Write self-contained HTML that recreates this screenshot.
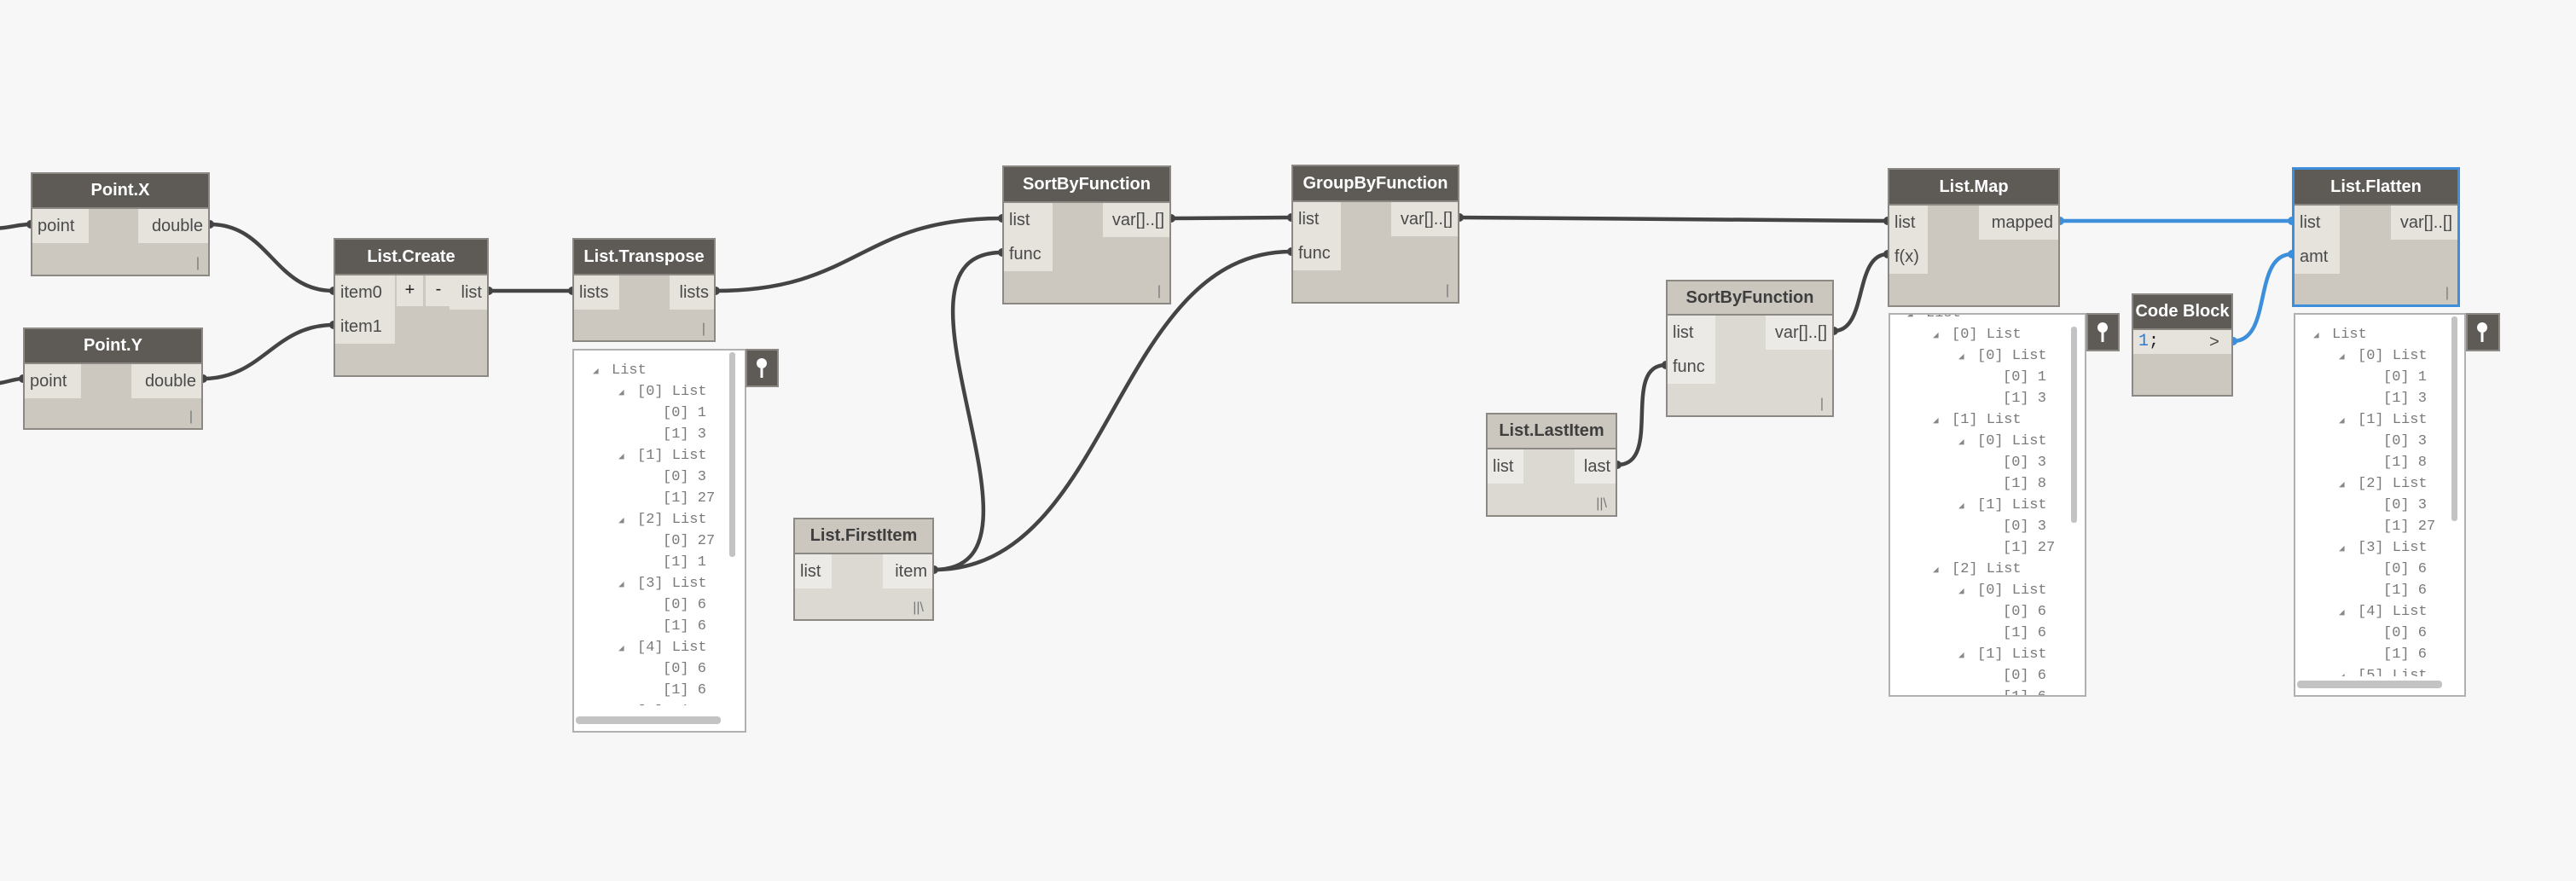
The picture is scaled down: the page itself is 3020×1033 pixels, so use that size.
<!DOCTYPE html>
<html><head><meta charset="utf-8"><style>
body{margin:0;width:3020px;height:1033px;background:#f7f7f7;position:relative;overflow:hidden;font-family:"Liberation Sans",sans-serif}
.n{position:absolute;background:#ccc8c0;border:2px solid #8c8984;box-sizing:border-box}
.n.i{background:#dcd9d2}
.h{position:absolute;left:0;right:0;top:0;background:#5e5b57;color:#fff;font-weight:bold;text-align:center;font-size:20px;border-bottom:2px solid #8c8984}
.i .h{background:#cbc7bf;color:#3e3e3e}
.p{position:absolute;background:#e6e3dd;color:#4a4a4a;font-size:20px;padding:0 6px;box-sizing:border-box;line-height:40px}
.i .p{background:#eceae6}
.p.r{right:0;text-align:right}
.lc{position:absolute;right:10px;bottom:4px;font-size:16px;color:#777}
.w{position:absolute;background:#fff;border:2px solid #b0b0b0;box-sizing:border-box;overflow:hidden}
.c{position:absolute;left:0;right:0;font-family:"Liberation Mono",monospace;font-size:17px;color:#7a7a7a}
.c div{height:25px;line-height:25px;white-space:nowrap}
.c span{display:inline-block;width:22px;margin-left:-22px;font-size:11px;color:#888}
.pin{position:absolute;background:#5e5b57;border:2px solid #8c8984;box-sizing:border-box}
.vs{position:absolute;width:7px;background:#c3c3c3;border-radius:3px}
.hs{position:absolute;height:9px;background:#c3c3c3;border-radius:4px}
</style></head><body>
<svg width="3020" height="1033" style="position:absolute;left:0;top:0" fill="none">
<g stroke="#444" stroke-width="4.5">
<path d="M-10 268 C10 268 20 263 36 263"/>
<path d="M-10 450 C5 450 15 444 27 444"/>
<path d="M246 263 C316 263 321 341 391 341"/>
<path d="M238 444 C308 444 321 381 391 381"/>
<path d="M573 341 L671 341"/>
<path d="M839 341 C1007 341 1007 256 1175 256"/>
<path d="M1095 668 C1255 668 1015 296 1175 296"/>
<path d="M1095 668 C1304 668 1305 295 1514 295"/>
<path d="M1373 256 L1514 255"/>
<path d="M1711 255 L2213 259"/>
<path d="M1896 545 C1950 545 1900 428 1953 428"/>
<path d="M2150 388 C2190 388 2173 298 2213 298"/>
</g>
<g stroke="#3d8fdc" stroke-width="4.5">
<path d="M2415 259 L2687 259"/>
<path d="M2618 400 C2665 400 2640 298 2687 298"/>
</g>
<g fill="#444">
<circle cx="36" cy="263" r="5"/><circle cx="27" cy="444" r="5"/><circle cx="246" cy="263" r="5"/><circle cx="238" cy="444" r="5"/>
<circle cx="391" cy="341" r="5"/><circle cx="391" cy="381" r="5"/><circle cx="573" cy="341" r="5"/><circle cx="671" cy="341" r="5"/><circle cx="839" cy="341" r="5"/>
<circle cx="1175" cy="256" r="5"/><circle cx="1175" cy="296" r="5"/><circle cx="1373" cy="256" r="5"/><circle cx="1514" cy="255" r="5"/><circle cx="1514" cy="295" r="5"/><circle cx="1711" cy="255" r="5"/>
<circle cx="1095" cy="668" r="5"/><circle cx="1896" cy="545" r="5"/><circle cx="1953" cy="428" r="5"/><circle cx="2150" cy="388" r="5"/>
<circle cx="2213" cy="259" r="5"/><circle cx="2213" cy="298" r="5"/>
</g>
<g fill="#3d8fdc"><circle cx="2415" cy="259" r="5"/><circle cx="2687" cy="259" r="5"/><circle cx="2687" cy="298" r="5"/><circle cx="2618" cy="400" r="5"/></g>
</svg>

<div class="n" style="left:36px;top:202px;width:210px;height:122px"><div class="h" style="height:39px;line-height:39px">Point.X</div>
<div class="p" style="left:0;top:41px;width:66px">point</div><div class="p r" style="top:41px;width:82px">double</div><div class="lc">|</div></div>

<div class="n" style="left:27px;top:384px;width:211px;height:120px"><div class="h" style="height:39px;line-height:39px">Point.Y</div>
<div class="p" style="left:0;top:41px;width:66px">point</div><div class="p r" style="top:41px;width:82px">double</div><div class="lc">|</div></div>

<div class="n" style="left:391px;top:279px;width:182px;height:163px"><div class="h" style="height:40px;line-height:40px">List.Create</div>
<div class="p" style="left:0;top:42px;width:70px">item0</div>
<div class="p" style="left:72px;top:42px;width:31px;height:36px;line-height:34px;text-align:center;padding:0;color:#222">+</div>
<div class="p" style="left:106px;top:42px;width:30px;height:36px;line-height:32px;text-align:center;padding:0;color:#222">-</div>
<div class="p r" style="top:42px;width:44px">list</div>
<div class="p" style="left:0;top:82px;width:70px">item1</div></div>

<div class="n" style="left:671px;top:279px;width:168px;height:122px"><div class="h" style="height:40px;line-height:40px">List.Transpose</div>
<div class="p" style="left:0;top:42px;width:53px">lists</div><div class="p r" style="top:42px;width:52px">lists</div><div class="lc">|</div></div>

<div class="w" style="left:671px;top:409px;width:204px;height:450px">
<div class="c" style="top:11px;padding-left:44px;height:405px;overflow:hidden">
<div><span>◢</span>List</div>
<div style="padding-left:30px"><span>◢</span>[0] List</div>
<div style="padding-left:60px">[0] 1</div><div style="padding-left:60px">[1] 3</div>
<div style="padding-left:30px"><span>◢</span>[1] List</div>
<div style="padding-left:60px">[0] 3</div><div style="padding-left:60px">[1] 27</div>
<div style="padding-left:30px"><span>◢</span>[2] List</div>
<div style="padding-left:60px">[0] 27</div><div style="padding-left:60px">[1] 1</div>
<div style="padding-left:30px"><span>◢</span>[3] List</div>
<div style="padding-left:60px">[0] 6</div><div style="padding-left:60px">[1] 6</div>
<div style="padding-left:30px"><span>◢</span>[4] List</div>
<div style="padding-left:60px">[0] 6</div><div style="padding-left:60px">[1] 6</div>
<div style="padding-left:30px"><span>◢</span>[5] List</div>
</div>
<div class="vs" style="left:182px;top:2px;height:240px"></div>
<div class="hs" style="left:2px;top:429px;width:170px"></div>
</div>
<div class="pin" style="left:874px;top:409px;width:39px;height:45px"><svg width="35" height="41"><circle cx="17" cy="15" r="6" fill="#fff"/><rect x="15.5" y="18" width="3" height="14" fill="#fff"/></svg></div>

<div class="n" style="left:1175px;top:194px;width:198px;height:163px"><div class="h" style="height:40px;line-height:40px">SortByFunction</div>
<div class="p" style="left:0;top:42px;width:57px">list</div><div class="p" style="left:0;top:82px;width:57px">func</div>
<div class="p r" style="top:42px;width:78px">var[]..[]</div><div class="lc">|</div></div>

<div class="n" style="left:1514px;top:193px;width:197px;height:163px"><div class="h" style="height:40px;line-height:40px">GroupByFunction</div>
<div class="p" style="left:0;top:42px;width:56px">list</div><div class="p" style="left:0;top:82px;width:56px">func</div>
<div class="p r" style="top:42px;width:78px">var[]..[]</div><div class="lc">|</div></div>

<div class="n i" style="left:930px;top:607px;width:165px;height:121px"><div class="h" style="height:39px;line-height:39px">List.FirstItem</div>
<div class="p" style="left:0;top:41px;width:43px">list</div><div class="p r" style="top:41px;width:58px">item</div><div class="lc">||\</div></div>

<div class="n i" style="left:1742px;top:484px;width:154px;height:122px"><div class="h" style="height:39px;line-height:39px">List.LastItem</div>
<div class="p" style="left:0;top:41px;width:42px">list</div><div class="p r" style="top:41px;width:48px">last</div><div class="lc">||\</div></div>

<div class="n i" style="left:1953px;top:328px;width:197px;height:161px"><div class="h" style="height:38px;line-height:38px">SortByFunction</div>
<div class="p" style="left:0;top:40px;width:56px">list</div><div class="p" style="left:0;top:80px;width:56px">func</div>
<div class="p r" style="top:40px;width:78px">var[]..[]</div><div class="lc">|</div></div>

<div class="n" style="left:2213px;top:197px;width:202px;height:163px"><div class="h" style="height:40px;line-height:40px">List.Map</div>
<div class="p" style="left:0;top:42px;width:45px">list</div><div class="p" style="left:0;top:82px;width:45px">f(x)</div>
<div class="p r" style="top:42px;width:93px">mapped</div></div>

<div class="n" style="left:2687px;top:196px;width:197px;height:164px;border:3px solid #3d8fdc"><div class="h" style="height:40px;line-height:40px">List.Flatten</div>
<div class="p" style="left:0;top:42px;width:53px">list</div><div class="p" style="left:0;top:82px;width:53px">amt</div>
<div class="p r" style="top:42px;width:78px">var[]..[]</div><div class="lc">|</div></div>

<div class="n" style="left:2499px;top:344px;width:119px;height:121px"><div class="h" style="height:39px;line-height:39px">Code Block</div>
<div class="p" style="left:0;top:41px;width:76px;height:28px;line-height:28px;color:#2a7bd8;font-family:'Liberation Mono',monospace">1<span style="color:#222">;</span></div>
<div class="p r" style="top:41px;width:40px;height:28px;line-height:28px;text-align:center;padding:0">&gt;</div></div>

<div class="w" style="left:2214px;top:367px;width:232px;height:450px">
<div class="c" style="top:-14px;padding-left:42px">
<div><span>◢</span>List</div>
<div style="padding-left:30px"><span>◢</span>[0] List</div>
<div style="padding-left:60px"><span>◢</span>[0] List</div>
<div style="padding-left:90px">[0] 1</div><div style="padding-left:90px">[1] 3</div>
<div style="padding-left:30px"><span>◢</span>[1] List</div>
<div style="padding-left:60px"><span>◢</span>[0] List</div>
<div style="padding-left:90px">[0] 3</div><div style="padding-left:90px">[1] 8</div>
<div style="padding-left:60px"><span>◢</span>[1] List</div>
<div style="padding-left:90px">[0] 3</div><div style="padding-left:90px">[1] 27</div>
<div style="padding-left:30px"><span>◢</span>[2] List</div>
<div style="padding-left:60px"><span>◢</span>[0] List</div>
<div style="padding-left:90px">[0] 6</div><div style="padding-left:90px">[1] 6</div>
<div style="padding-left:60px"><span>◢</span>[1] List</div>
<div style="padding-left:90px">[0] 6</div><div style="padding-left:90px">[1] 6</div>
</div>
<div class="vs" style="left:212px;top:14px;height:230px"></div>
</div>
<div class="pin" style="left:2446px;top:367px;width:39px;height:45px"><svg width="35" height="41"><circle cx="17" cy="15" r="6" fill="#fff"/><rect x="15.5" y="18" width="3" height="14" fill="#fff"/></svg></div>

<div class="w" style="left:2689px;top:367px;width:202px;height:450px">
<div class="c" style="top:11px;padding-left:43px;height:413px;overflow:hidden">
<div><span>◢</span>List</div>
<div style="padding-left:30px"><span>◢</span>[0] List</div>
<div style="padding-left:60px">[0] 1</div><div style="padding-left:60px">[1] 3</div>
<div style="padding-left:30px"><span>◢</span>[1] List</div>
<div style="padding-left:60px">[0] 3</div><div style="padding-left:60px">[1] 8</div>
<div style="padding-left:30px"><span>◢</span>[2] List</div>
<div style="padding-left:60px">[0] 3</div><div style="padding-left:60px">[1] 27</div>
<div style="padding-left:30px"><span>◢</span>[3] List</div>
<div style="padding-left:60px">[0] 6</div><div style="padding-left:60px">[1] 6</div>
<div style="padding-left:30px"><span>◢</span>[4] List</div>
<div style="padding-left:60px">[0] 6</div><div style="padding-left:60px">[1] 6</div>
<div style="padding-left:30px"><span>◢</span>[5] List</div>
</div>
<div class="vs" style="left:183px;top:2px;height:240px"></div>
<div class="hs" style="left:2px;top:429px;width:170px"></div>
</div>
<div class="pin" style="left:2891px;top:367px;width:40px;height:45px"><svg width="36" height="41"><circle cx="17" cy="15" r="6" fill="#fff"/><rect x="15.5" y="18" width="3" height="14" fill="#fff"/></svg></div>
</body></html>
